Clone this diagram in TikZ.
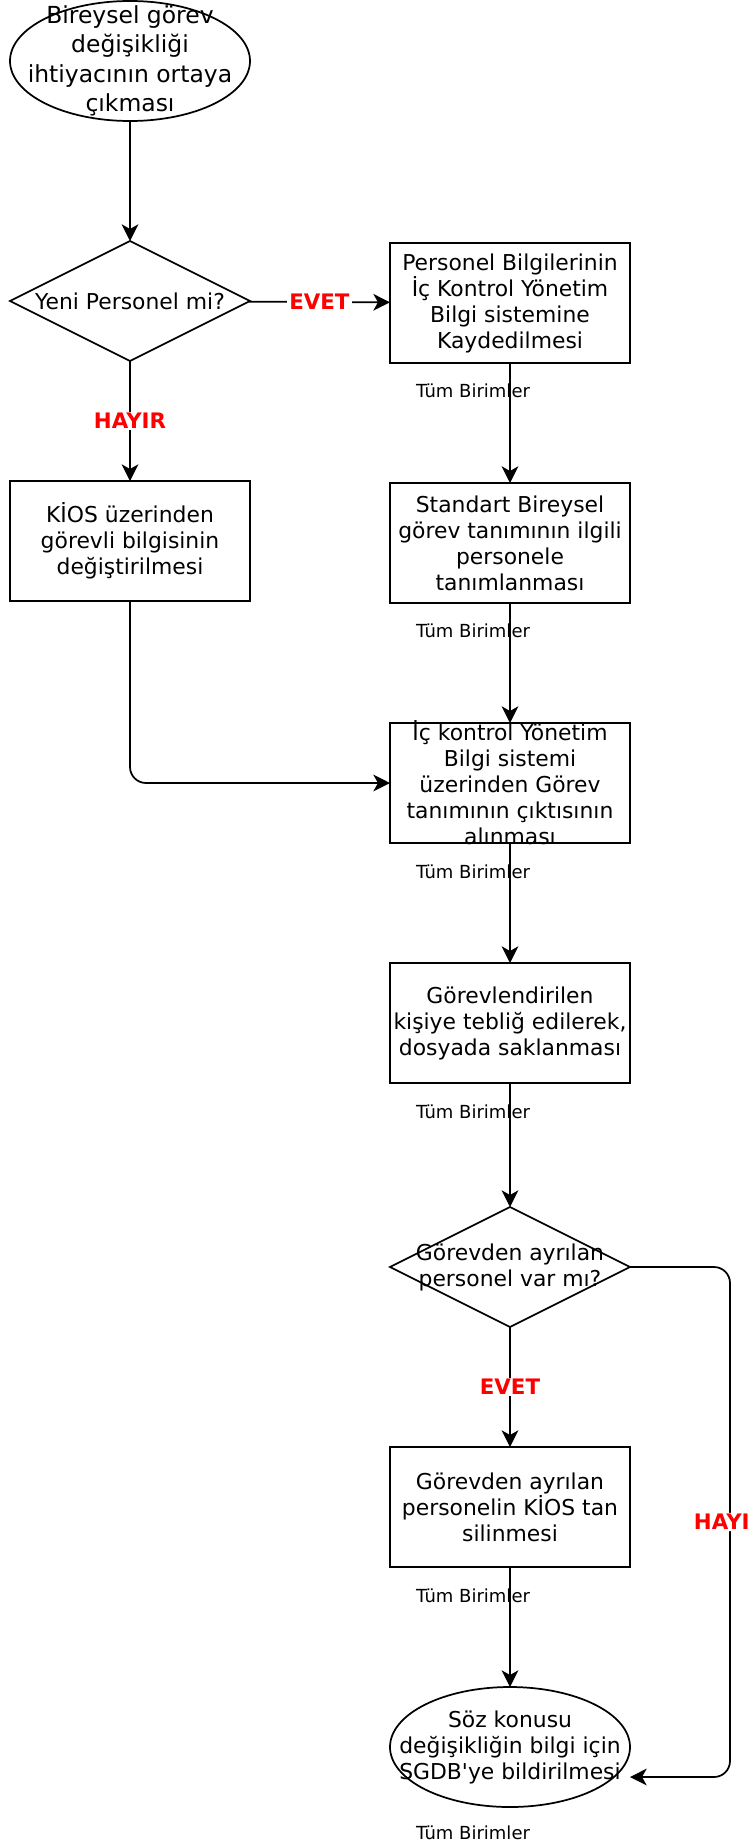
\documentclass[tikz,border=0pt]{standalone}
\usepackage{fontspec}
\setmainfont{DejaVu Sans}
\usepackage{tikz}
\usetikzlibrary{positioning,shapes.geometric,arrows.meta}
\tikzstyle{term}=[ellipse, draw, line width=1.3pt, minimum width=180pt, minimum height=90pt, inner sep=0pt, outer sep=0pt]
\tikzstyle{dec}=[diamond, draw, line width=1.3pt, minimum width=180pt, minimum height=90pt, inner sep=0pt, outer sep=0pt]
\tikzstyle{proc}=[rectangle, draw, line width=1.3pt, minimum width=180pt, minimum height=90pt, inner sep=0pt, outer sep=0pt, align=center, font=\fontsize{16.4}{19.5}\selectfont]
\tikzstyle{txt}=[align=center, inner sep=0pt, font=\fontsize{16.4}{19.5}\selectfont]
\tikzstyle{unit}=[inner sep=0pt, font=\fontsize{13.5}{16}\selectfont]
\tikzstyle{ans}=[fill=white, inner xsep=2pt, inner ysep=1pt, text=red, font=\fontsize{16}{19}\selectfont\bfseries]
\tikzstyle{flow}=[-{Stealth[length=12.5pt,width=12.5pt,inset=3.5pt]}, line width=1.3pt]

\begin{document}
\begin{tikzpicture}
        \useasboundingbox (0,0) rectangle (561pt,-1383.75pt);
        \node (1) [term, label={[txt, font=\fontsize{17.6}{22}\selectfont]center:{Bireysel görev\\değişikliği\\ihtiyacının ortaya\\çıkması}}] at (97.5pt,-45.75pt) {};
        \node (2) [dec, below= 90pt of 1, label={[txt]center:{Yeni Personel mi?}}] {};
        \node (3) [proc, right= 105pt of 2, yshift=-1.5pt] {Personel Bilgilerinin\\İç Kontrol Yönetim\\Bilgi sistemine\\Kaydedilmesi};
        \node (4) [proc, below= 90pt of 2] {KİOS üzerinden\\görevli bilgisinin\\değiştirilmesi};
        \node (5) [proc, below= 90pt of 3] {Standart Bireysel\\görev tanımının ilgili\\personele\\tanımlanması};
        \node (6) [proc, inner ysep=-3pt, below= 90pt of 5] {İç kontrol Yönetim\\Bilgi sistemi\\üzerinden Görev\\tanımının çıktısının\\alınması};
        \node (7) [proc, below= 90pt of 6] {Görevlendirilen\\kişiye tebliğ edilerek,\\dosyada saklanması};
        \node (8) [dec, below= 93pt of 7, label={[txt]center:{Görevden ayrılan\\personel var mı?}}] {};
        \node (9) [proc, below= 90pt of 8] {Görevden ayrılan\\personelin KİOS tan\\silinmesi};
        \node (10) [term, below= 90pt of 9, label={[txt]center:{Söz konusu\\değişikliğin bilgi için\\SGDB\textquotesingle ye bildirilmesi}}] {};
        \coordinate [below= 22.5pt of 10.east] (10a);
        \node (t3) [unit] at ([xshift=-27.75pt, yshift=-21pt]3.south) {Tüm Birimler};
        \node (t5) [unit] at ([xshift=-27.75pt, yshift=-21pt]5.south) {Tüm Birimler};
        \node (t6) [unit] at ([xshift=-27.75pt, yshift=-21.5pt]6.south) {Tüm Birimler};
        \node (t7) [unit] at ([xshift=-27.75pt, yshift=-21.5pt]7.south) {Tüm Birimler};
        \node (t9) [unit] at ([xshift=-27.75pt, yshift=-21.5pt]9.south) {Tüm Birimler};
        \node (t10) [unit] at ([xshift=-27.75pt, yshift=-19.5pt]10.south) {Tüm Birimler};
        \draw (1) edge[flow] (2);
        \draw (2) edge[flow] node[ans] {EVET} (3);
        \draw (2) edge[flow] node[ans] {HAYIR} (4);
        \draw (3) edge[flow] (5);
        \draw (5) edge[flow] (6);
        \draw[flow, rounded corners=12pt] (4) |- (6);
        \draw (6) edge[flow] (7);
        \draw (7) edge[flow] (8);
        \draw (8) edge[flow] node[ans] {EVET} (9);
        \draw (9) edge[flow] (10);
        \draw[flow, rounded corners=12pt] (8.east) -- ++(75pt,0) |- node[ans, pos=.25] {HAYIR} (10a);
\end{tikzpicture}
\end{document}
